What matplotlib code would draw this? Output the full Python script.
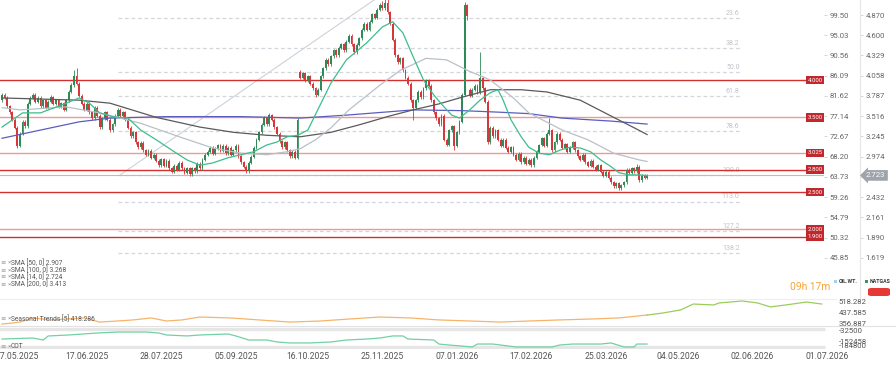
import numpy as np
import matplotlib
matplotlib.use("Agg")
import matplotlib.pyplot as plt
import matplotlib.transforms as mtrans
from matplotlib.patches import FancyBboxPatch, Rectangle

plt.rcParams['font.family'] = ['Roboto', 'DejaVu Sans']

# ---- NATGAS daily candles (bar index 0 .. 251) ----
opens = [3.73,3.80,3.76,3.65,3.57,3.47,3.36,3.12,3.28,3.44,
         3.38,3.68,3.76,3.80,3.71,3.76,3.65,3.73,3.63,3.71,
         3.77,3.68,3.73,3.64,3.69,3.60,3.73,3.84,3.93,4.05,
         3.95,3.79,3.68,3.60,3.68,3.57,3.49,3.63,3.52,3.37,
         3.49,3.57,3.47,3.33,3.41,3.52,3.60,3.52,3.57,3.47,
         3.36,3.25,3.30,3.17,3.10,3.16,3.06,3.00,3.05,2.96,
         3.00,2.92,2.86,2.94,2.85,2.92,2.82,2.77,2.85,2.80,
         2.89,2.82,2.76,2.82,2.74,2.82,2.78,2.88,2.82,2.93,
         3.00,3.04,3.09,3.01,3.08,3.13,3.05,3.12,3.02,3.09,
         3.00,3.06,3.12,2.98,2.90,2.84,2.78,2.89,2.97,3.09,
         3.20,3.30,3.40,3.49,3.41,3.53,3.47,3.37,3.28,3.18,
         3.10,3.17,3.06,2.98,3.04,2.96,4.11,4.03,4.09,4.00,
         4.05,3.95,3.89,3.80,3.87,4.05,4.16,4.27,4.21,4.32,
         4.40,4.33,4.43,4.48,4.40,4.51,4.59,4.48,4.37,4.47,
         4.56,4.67,4.75,4.67,4.78,4.88,4.83,4.94,5.00,4.96,
         5.03,4.91,4.75,4.54,4.33,4.24,4.29,4.13,4.03,3.95,
         3.73,3.63,3.73,3.84,3.77,3.89,4.00,3.92,3.73,3.57,
         3.49,3.41,3.52,3.20,3.13,3.33,3.38,3.12,3.30,3.44,
         3.80,5.00,3.87,3.79,3.87,3.92,3.83,4.03,3.89,3.71,
         3.17,3.36,3.25,3.33,3.20,3.12,3.20,3.09,3.04,3.10,
         3.00,2.93,3.01,2.90,2.96,2.88,2.93,2.86,2.96,3.04,
         3.13,3.22,3.12,3.28,3.33,3.06,3.17,3.28,3.20,3.09,
         3.14,3.04,3.09,3.17,3.06,2.98,2.93,3.00,2.90,2.85,
         2.92,2.84,2.80,2.86,2.77,2.72,2.77,2.69,2.63,2.58,
         2.62,2.55,2.59,2.63,2.80,2.76,2.82,2.78,2.84,2.66,
         2.72,2.69]
highs = [3.82,3.83,3.78,3.67,3.59,3.49,3.38,3.30,3.46,3.46,
         3.70,3.78,3.83,3.82,3.78,3.78,3.75,3.75,3.73,3.80,
         3.79,3.75,3.75,3.71,3.71,3.75,3.86,3.96,4.13,4.16,
         3.97,3.81,3.70,3.70,3.70,3.59,3.65,3.65,3.54,3.51,
         3.59,3.59,3.49,3.43,3.54,3.62,3.62,3.59,3.59,3.49,
         3.38,3.32,3.32,3.19,3.18,3.18,3.08,3.07,3.07,3.02,
         3.02,2.94,2.96,2.96,2.94,2.94,2.84,2.87,2.87,2.91,
         2.91,2.84,2.84,2.84,2.84,2.84,2.90,2.90,2.95,3.02,
         3.06,3.11,3.11,3.10,3.15,3.15,3.14,3.14,3.11,3.11,
         3.08,3.14,3.14,3.00,2.92,2.86,2.91,2.99,3.11,3.22,
         3.32,3.42,3.52,3.51,3.56,3.55,3.49,3.39,3.30,3.20,
         3.19,3.19,3.08,3.06,3.06,3.49,4.13,4.11,4.11,4.07,
         4.07,3.97,3.91,3.89,4.07,4.18,4.29,4.29,4.34,4.42,
         4.42,4.45,4.50,4.50,4.53,4.61,4.61,4.50,4.49,4.58,
         4.69,4.77,4.77,4.80,4.90,4.90,4.96,5.03,5.06,5.08,
         5.08,4.93,4.77,4.56,4.35,4.31,4.31,4.15,4.05,3.97,
         3.75,3.75,3.86,3.86,3.91,4.02,4.02,3.94,3.75,3.59,
         3.51,3.54,3.54,3.22,3.35,3.40,3.40,3.32,3.46,3.82,
         5.05,5.02,3.89,3.89,3.94,3.94,4.37,4.05,3.91,3.73,
         3.38,3.38,3.35,3.35,3.22,3.22,3.22,3.11,3.12,3.12,
         3.02,3.03,3.03,2.98,2.98,2.95,2.95,2.98,3.06,3.15,
         3.24,3.24,3.30,3.49,3.35,3.19,3.30,3.30,3.22,3.16,
         3.16,3.11,3.19,3.19,3.08,3.00,3.02,3.02,2.92,2.94,
         2.94,2.86,2.88,2.88,2.79,2.79,2.79,2.71,2.65,2.64,
         2.64,2.61,2.65,2.82,2.82,2.84,2.84,2.87,2.86,2.74,
         2.74,2.74]
lows = [3.71,3.74,3.63,3.55,3.45,3.34,3.09,3.10,3.26,3.36,
        3.36,3.66,3.74,3.69,3.69,3.63,3.63,3.61,3.61,3.69,
        3.66,3.66,3.62,3.62,3.58,3.58,3.71,3.82,3.91,3.93,
        3.77,3.66,3.58,3.58,3.55,3.47,3.47,3.50,3.34,3.35,
        3.47,3.45,3.31,3.31,3.39,3.50,3.50,3.50,3.45,3.34,
        3.23,3.23,3.15,3.08,3.08,3.04,2.98,2.98,2.94,2.94,
        2.90,2.84,2.84,2.83,2.83,2.80,2.75,2.75,2.78,2.78,
        2.80,2.74,2.74,2.72,2.72,2.76,2.76,2.80,2.80,2.91,
        2.98,3.02,2.99,2.99,3.06,3.03,3.03,3.00,3.00,2.98,
        2.98,3.04,2.96,2.88,2.82,2.76,2.76,2.87,2.95,3.07,
        3.18,3.28,3.38,3.39,3.39,3.45,3.35,3.26,3.16,3.08,
        3.08,3.04,2.96,2.96,2.94,2.94,4.01,4.01,3.98,3.98,
        3.93,3.87,3.77,3.78,3.85,4.03,4.14,4.19,4.19,4.30,
        4.31,4.31,4.41,4.38,4.38,4.49,4.46,4.35,4.35,4.45,
        4.54,4.65,4.65,4.65,4.76,4.81,4.81,4.92,4.94,4.94,
        4.89,4.73,4.52,4.31,4.22,4.22,4.11,4.01,3.93,3.71,
        3.47,3.61,3.71,3.75,3.75,3.87,3.90,3.71,3.55,3.47,
        3.39,3.39,3.18,3.11,3.11,3.31,3.06,3.10,3.28,3.42,
        3.78,4.80,3.77,3.77,3.85,3.81,3.81,3.87,3.69,3.14,
        3.15,3.23,3.23,3.18,3.10,3.10,3.07,3.02,3.02,2.98,
        2.91,2.91,2.88,2.88,2.86,2.86,2.84,2.84,2.94,3.02,
        3.11,3.10,3.10,3.26,3.04,3.04,3.15,3.18,3.07,3.07,
        3.02,3.02,3.07,3.04,2.96,2.91,2.91,2.88,2.83,2.83,
        2.82,2.78,2.78,2.75,2.70,2.70,2.67,2.61,2.56,2.56,
        2.53,2.53,2.57,2.61,2.74,2.74,2.76,2.76,2.64,2.64,
        2.67,2.67]
closes = [3.80,3.76,3.65,3.57,3.47,3.36,3.12,3.28,3.44,3.38,
          3.68,3.76,3.80,3.71,3.76,3.65,3.73,3.63,3.71,3.77,
          3.68,3.73,3.64,3.69,3.60,3.73,3.84,3.93,4.05,3.95,
          3.79,3.68,3.60,3.68,3.57,3.49,3.63,3.52,3.37,3.49,
          3.57,3.47,3.33,3.41,3.52,3.60,3.52,3.57,3.47,3.36,
          3.25,3.30,3.17,3.10,3.16,3.06,3.00,3.05,2.96,3.00,
          2.92,2.86,2.94,2.85,2.92,2.82,2.77,2.85,2.80,2.89,
          2.82,2.76,2.82,2.74,2.82,2.78,2.88,2.82,2.93,3.00,
          3.04,3.09,3.01,3.08,3.13,3.05,3.12,3.02,3.09,3.00,
          3.06,3.12,2.98,2.90,2.84,2.78,2.89,2.97,3.09,3.20,
          3.30,3.40,3.49,3.41,3.53,3.47,3.37,3.28,3.18,3.10,
          3.17,3.06,2.98,3.04,2.96,3.47,4.03,4.09,4.00,4.05,
          3.95,3.89,3.80,3.87,4.05,4.16,4.27,4.21,4.32,4.40,
          4.33,4.43,4.48,4.40,4.51,4.59,4.48,4.37,4.47,4.56,
          4.67,4.75,4.67,4.78,4.88,4.83,4.94,5.00,4.96,5.03,
          4.91,4.75,4.54,4.33,4.24,4.29,4.13,4.03,3.95,3.73,
          3.63,3.73,3.84,3.77,3.89,4.00,3.92,3.73,3.57,3.49,
          3.41,3.52,3.20,3.13,3.33,3.38,3.12,3.30,3.44,3.80,
          5.00,4.86,3.79,3.87,3.92,3.83,4.03,3.89,3.71,3.17,
          3.36,3.25,3.33,3.20,3.12,3.20,3.09,3.04,3.10,3.00,
          2.93,3.01,2.90,2.96,2.88,2.93,2.86,2.96,3.04,3.13,
          3.22,3.12,3.28,3.33,3.06,3.17,3.28,3.20,3.09,3.14,
          3.04,3.09,3.17,3.06,2.98,2.93,3.00,2.90,2.85,2.92,
          2.84,2.80,2.86,2.77,2.72,2.77,2.69,2.63,2.58,2.62,
          2.55,2.59,2.63,2.80,2.76,2.82,2.78,2.84,2.66,2.72,
          2.69,2.72]

# moving averages (bar index, value)
sma14_idx = [0,8,15,25,30,34,38,43,49,54,60,67,72,77,82,88,93,98,103,107,111,115,119,128,134,
             142,148,152,156,160,164,168,172,175,178,182,186,190,193,195,198,202,205,209,213,
             217,221,225,229,233,237,240,244,248,251]
sma14_val = [3.37,3.56,3.56,3.69,3.76,3.69,3.56,3.51,3.49,3.33,3.20,3.04,2.93,2.86,2.89,2.96,3.00,
             3.04,3.13,3.17,3.24,3.26,3.33,3.96,4.27,4.50,4.71,4.78,4.63,4.31,4.00,3.80,3.64,3.53,
             3.49,3.60,3.73,3.83,3.87,3.73,3.47,3.24,3.10,3.02,3.00,3.06,3.10,3.09,3.04,2.93,2.84,
             2.76,2.73,2.73,2.72]
sma50_idx = [0,7,25,38,54,69,82,93,103,111,116,122,128,135,147,155,165,173,181,190,199,205,218,228,238,248,251]
sma50_val = [3.63,3.60,3.64,3.56,3.42,3.24,3.09,3.02,3.00,3.04,3.08,3.20,3.36,3.60,3.93,4.13,4.29,4.27,
             4.13,4.00,3.76,3.56,3.33,3.20,3.02,2.93,2.91]
sma100_idx = [0,30,42,60,77,90,103,116,128,139,151,160,170,179,190,202,212,225,238,246,251]
sma100_val = [3.76,3.73,3.69,3.50,3.37,3.30,3.26,3.24,3.30,3.40,3.52,3.60,3.68,3.77,3.87,3.87,3.84,
              3.73,3.50,3.36,3.27]
sma200_idx = [0,15,30,42,64,93,116,134,160,179,193,205,218,237,251]
sma200_val = [3.22,3.33,3.44,3.49,3.51,3.51,3.49,3.53,3.60,3.59,3.57,3.55,3.49,3.45,3.41]

# horizontal levels, fibonacci
levels = [4.000, 3.500, 3.025, 2.800, 2.500, 2.000, 1.900]
level_strong = [True, False, False, True, True, False, True]
fib_levels = [23.6, 38.2, 50.0, 61.8, 78.6, 100.0, 113.0, 127.2, 138.2]
fib_high, fib_low = 5.48, 2.73
last_price = 2.723

# right axis labels
ng_ticks = [4.870, 4.600, 4.329, 4.058, 3.787, 3.516, 3.245, 2.974, 2.703, 2.432, 2.161, 1.890, 1.619]
oil_labels = ["99.50", "95.03", "90.56", "86.09", "81.62", "77.14", "72.67", "68.20", "63.73",
              "59.26", "54.79", "50.32", "45.85"]

# seasonal trend and COT panels
seas_idx = [0,4,7,12,19,25,32,38,45,51,58,64,70,77,89,100,112,124,135,147,159,170,182,194,205,217,229,240,251]
seas_val = [352,360,367,398,383,390,398,367,375,383,398,375,383,405,398,383,367,375,390,405,398,383,
            375,367,375,383,390,398,420]
seas_f_idx = [251,257,264,269,277,279,288,294,299,305,313,319]
seas_f_val = [420,435,458,503,496,511,526,511,481,496,518,503]
seas_ticks = [518.282, 437.585, 356.887]

cot_idx = [0,12,16,18,26,37,45,56,61,64,72,77,88,91,96,103,107,112,120,128,134,142,147,152,156,158,
           168,170,174,183,185,191,194,200,207,214,217,222,233,237,242,246,247,251]
cot_val = [-124000,-114000,-134000,-93000,-83000,-63000,-53000,-53000,-63000,-83000,-93000,-83000,
           -73000,-93000,-134000,-134000,-154000,-164000,-164000,-154000,-134000,-124000,-114000,
           -93000,-93000,-124000,-134000,-175000,-185000,-205000,-175000,-175000,-185000,-205000,
           -205000,-205000,-185000,-175000,-175000,-164000,-205000,-205000,-175000,-175000]
cot_ticks = [-32500, -152458, -184800]

date_idx = [6, 33, 62, 91, 119, 148, 177, 206, 235, 263, 292, 321]
date_labels = ["17.05.2025", "17.06.2025", "28.07.2025", "05.09.2025", "16.10.2025", "25.11.2025",
               "07.01.2026", "17.02.2026", "25.03.2026", "04.05.2026", "02.06.2026", "01.07.2026"]

W, H = 896, 367
def rect(x0, y0, x1, y1):
    return [x0 / W, 1 - y1 / H, (x1 - x0) / W, (y1 - y0) / H]

PPB = 2.57  # pixels per bar
fig = plt.figure(figsize=(W / 100, H / 100), dpi=100)
fig.patch.set_facecolor('white')

ax = fig.add_axes(rect(0, 0, 824, 298))
ax.set_xlim(-2 / PPB, (824 - 2) / PPB)
ax.set_ylim(1.082, 5.071)
for s in ax.spines.values():
    s.set_visible(False)
ax.set_xticks([])

o = np.array(opens); h = np.array(highs); l = np.array(lows); c = np.array(closes)
idx = np.arange(len(c))
cols = np.where(c >= o, '#2e8b57', '#d7373b')
ax.vlines(idx, l, h, colors=cols, lw=0.6, zorder=3)
ax.bar(idx, np.maximum(np.abs(c - o), 0.01), bottom=np.minimum(o, c), width=0.72,
       color=cols, linewidth=0, zorder=3)

# fibonacci + diagonal
fib_start, fib_end = 45, 287
for lv in fib_levels:
    p = fib_high - (fib_high - fib_low) * lv / 100
    ax.hlines(p, fib_start, fib_end, colors='#d3d7db', lw=0.9, linestyles=(0, (3, 2.2)), zorder=1)
    ax.text(fib_end, p + 0.015, f"{lv:.1f}", ha='right', va='bottom', fontsize=5, color='#bfc4c9', zorder=1)
ax.plot([46, 162], [fib_low, fib_high], color='#cdd2d7', lw=0.8, zorder=1)

ax.axhline(last_price, color='#b8bdc2', lw=0.8, zorder=1)

trans = mtrans.blended_transform_factory(ax.transAxes, ax.transData)
for lv, strong in zip(levels, level_strong):
    ax.axhline(lv, color='#d32f2f' if strong else '#eb9a9a', lw=1.0, zorder=2)
    ax.text(0.9985, lv, f"{lv:.3f}", transform=trans, ha='right', va='center', fontsize=4.3,
            color='white', zorder=6,
            bbox=dict(boxstyle='square,pad=0.28', fc='#c0282d', ec='none'))

ax.plot(sma200_idx, sma200_val, color='#5a5dc0', lw=0.9, zorder=4)
ax.plot(sma100_idx, sma100_val, color='#5a5a5a', lw=0.9, zorder=4)
ax.plot(sma50_idx, sma50_val, color='#b9c0c8', lw=0.9, zorder=4)
ax.plot(sma14_idx, sma14_val, color='#3dbd8c', lw=0.9, zorder=4)

# natgas column (outer)
ax2 = ax.twinx()
ax2.set_ylim(ax.get_ylim())
for s in ['top', 'bottom', 'left']:
    ax2.spines[s].set_visible(False)
ax2.spines['right'].set_position(('axes', 860 / 824))
ax2.spines['right'].set_color('#e6e6e6')
ax2.spines['right'].set_linewidth(0.8)
ax2.set_yticks(ng_ticks, [f"{v:.3f}" if abs(v - 2.703) > 1e-6 else "" for v in ng_ticks])
ax2.tick_params(axis='y', length=2, width=0.6, color='#d0d0d0', pad=2, labelsize=5.6, labelcolor='#666666')
ax2.text(866 / 824, last_price, f"{last_price:.3f}", transform=trans, ha='left', va='center',
         fontsize=5.6, color='white', zorder=8,
         bbox=dict(boxstyle='larrow,pad=0.3', fc='#9ea4aa', ec='none'))

# oil column (inner), set after twinx which moves ticks left
ax.set_yticks(ng_ticks, oil_labels)
ax.tick_params(axis='y', left=False, labelleft=False, right=True, labelright=True,
               length=2, width=0.6, color='#d0d0d0', pad=2, labelsize=5.6, labelcolor='#666666')

# seasonal panel
axs = fig.add_axes(rect(0, 299, 836, 326))
axs.set_xlim(-2 / PPB, (836 - 2) / PPB)
axs.set_ylim(337.3, 540.9)
for s in axs.spines.values():
    s.set_visible(False)
axs.set_xticks([])
axs.plot(seas_idx, seas_val, color='#f7b46a', lw=0.9)
axs.plot(seas_f_idx, seas_f_val, color='#9ccc5c', lw=0.9)
axs.yaxis.tick_right()
axs.set_yticks(seas_ticks, [f"{v:.3f}" for v in seas_ticks])
axs.tick_params(axis='y', length=0, pad=2, labelsize=5.6, labelcolor='#555555')

# COT panel
axc = fig.add_axes(rect(0, 327, 836, 349))
axc.set_xlim(-2 / PPB, (836 - 2) / PPB)
axc.set_ylim(-225400, -2000)
for s in axc.spines.values():
    s.set_visible(False)
axc.hlines([-22300, -205100], -1, (825 - 2) / PPB, colors='#e6e6e6', lw=2.4, zorder=1)
axc.plot(cot_idx, cot_val, color='#72d0a4', lw=0.9, zorder=2)
axc.yaxis.tick_right()
axc.set_yticks(cot_ticks, [str(v) for v in cot_ticks])
axc.tick_params(axis='y', length=0, pad=2, labelsize=5.6, labelcolor='#555555')
axc.set_xticks(date_idx, date_labels)
axc.tick_params(axis='x', length=0, pad=2, labelsize=6.2, labelcolor='#555555')

# separators
fig.add_artist(plt.Line2D([0, 836 / W], [1 - 298.5 / H] * 2, color='#eeeeee', lw=0.8))
fig.add_artist(plt.Line2D([0, 1], [1 - 326 / H] * 2, color='#e2e2e2', lw=0.8))

# legend texts
icon_kw = dict(fontsize=4.6, color='#9a9a9a')
for y, txt in [(263, "SMA [50, 0] 2.907"), (270, "SMA [100, 0] 3.268"),
               (277, "SMA [14, 0] 2.724"), (284, "SMA [200, 0] 3.413")]:
    fig.text(1 / W, 1 - y / H, "≡ ×", va='center', **icon_kw)
    fig.text(11 / W, 1 - y / H, txt, va='center', fontsize=4.8, color='#555555')
fig.text(1 / W, 1 - 319 / H, "≡ ×", va='center', **icon_kw)
fig.text(11 / W, 1 - 319 / H, "Seasonal Trends [5] 418.286", va='center', fontsize=4.8, color='#555555')
fig.text(1 / W, 1 - 347 / H, "≡ ×", va='center', **icon_kw)
fig.text(11 / W, 1 - 347 / H, "COT", va='center', fontsize=4.8, color='#555555')

fig.text(830 / W, 1 - 287 / H, "09h 17m", ha='right', va='center', fontsize=7.4, color='#f5a43a')
fig.add_artist(Rectangle((834 / W, 1 - 283 / H), 3 / W, 3 / H, transform=fig.transFigure,
                         fc='#9fd3f0', ec='none'))
fig.text(839 / W, 1 - 281.5 / H, "OIL.WT.", va='center', fontsize=3.8, color='#333333', weight='bold')
fig.add_artist(Rectangle((865 / W, 1 - 283 / H), 3 / W, 3 / H, transform=fig.transFigure,
                         fc='#2e9b5a', ec='none'))
fig.text(870 / W, 1 - 281.5 / H, "NATGAS", va='center', fontsize=3.8, color='#333333', weight='bold')
fig.add_artist(FancyBboxPatch((868 / W, 1 - 296 / H), 22 / W, 8 / H, transform=fig.transFigure,
                              boxstyle='round,pad=0,rounding_size=0.004', fc='#e53935', ec='none'))

fig.savefig("out.png", dpi=100)
